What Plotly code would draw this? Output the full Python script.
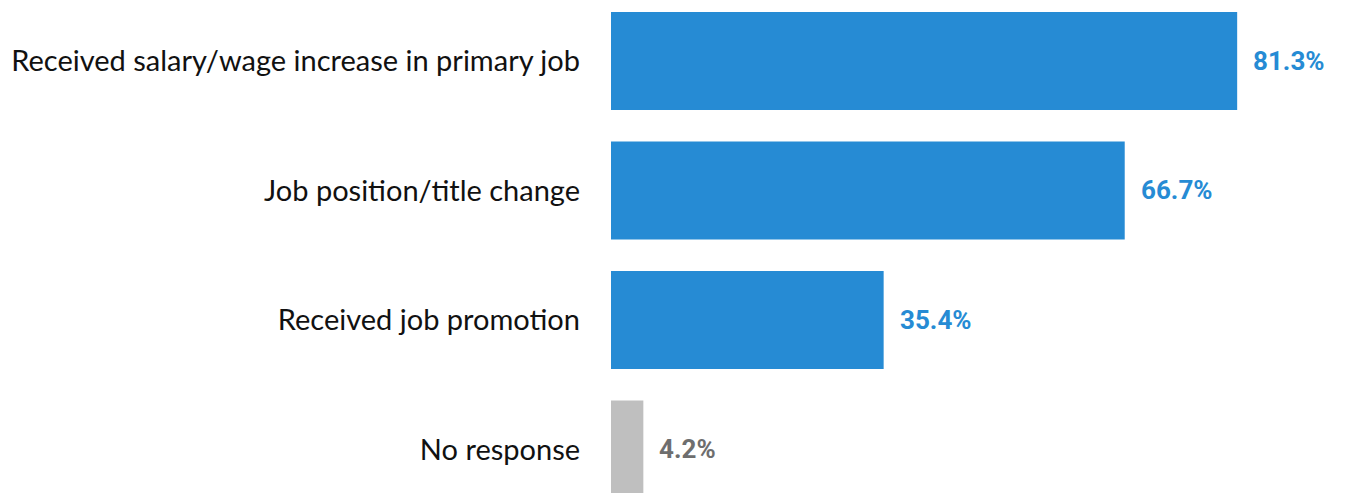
import plotly.graph_objects as go

categories = [
    "Received salary/wage increase in primary job",
    "Job position/title change",
    "Received job promotion",
    "No response",
]
values = [81.3, 66.7, 35.4, 4.2]
value_labels = ["81.3%", "66.7%", "35.4%", "4.2%"]

BLUE = "#268BD4"
GREY_BAR = "#BFBFBF"
GREY_TEXT = "#6E6E6E"
bar_colors = [BLUE, BLUE, BLUE, GREY_BAR]
text_colors = [BLUE, BLUE, BLUE, GREY_TEXT]

fig = go.Figure(
    go.Bar(
        x=values,
        y=categories,
        orientation="h",
        marker=dict(color=bar_colors, line=dict(width=0)),
        hoverinfo="skip",
    )
)

for cat, val, lab, col in zip(categories, values, value_labels, text_colors):
    fig.add_annotation(
        x=val, y=cat, text=f"<b>{lab}</b>", showarrow=False,
        xanchor="left", yanchor="middle", xshift=14,
        font=dict(family="Roboto", size=26, color=col),
    )

fig.update_layout(
    width=1345, height=493,
    margin=dict(l=611, r=0, t=0, b=0),
    paper_bgcolor="white", plot_bgcolor="white",
    bargap=0.243,
    showlegend=False,
    xaxis=dict(range=[0, 95.3], visible=False, fixedrange=True),
    yaxis=dict(
        range=[3.336, -0.471],
        showgrid=False, zeroline=False, showline=False,
        ticks="", ticklabelstandoff=30,
        tickfont=dict(family="Lato", size=29, color="#111111"),
    ),
)

fig.write_html("out.html")
